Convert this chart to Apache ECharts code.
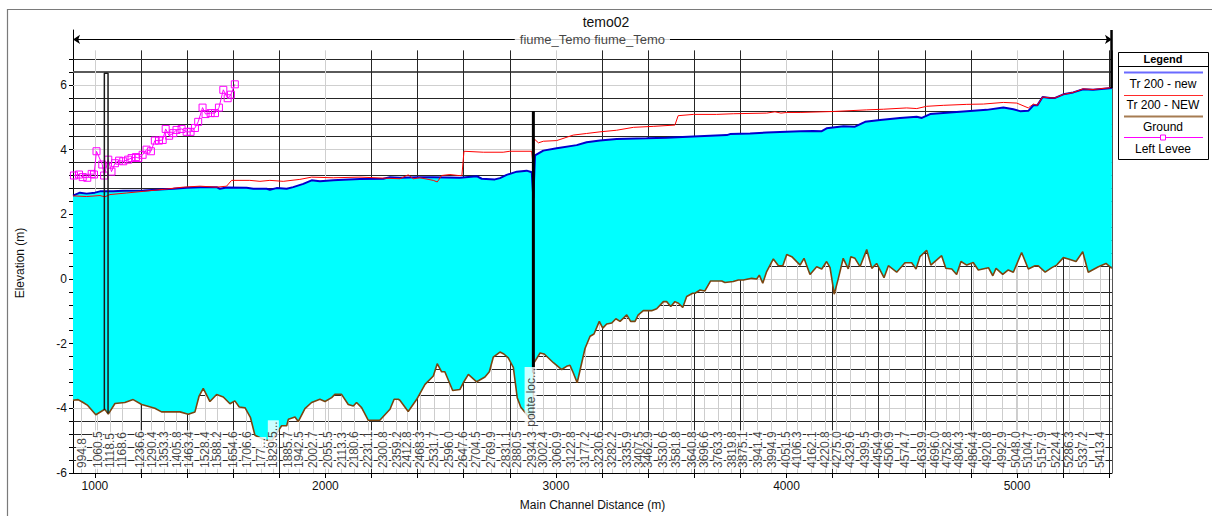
<!DOCTYPE html>
<html>
<head>
<meta charset="utf-8">
<script src="https://cdn.jsdelivr.net/npm/echarts/dist/echarts.min.js"></script>
<style>
html,body{margin:0;padding:0;background:#fff;}
#chart{width:1212px;height:516px;}
</style>
</head>
<body>
<div id="chart"></div>
<script>
// ---------------- data (main channel distance m, elevation m) ----------------
const titleText = 'temo02';
const reachText = 'fiume_Temo fiume_Temo';
const yAxisTitle = 'Elevation (m)';
const xAxisTitle = 'Main Channel Distance (m)';
const seriesNames = ['Tr 200 - new', 'Tr 200 - NEW', 'Ground', 'Left Levee'];

const xTickLabels = [1000, 2000, 3000, 4000, 5000];
const xTicks = [1000,1200,1400,1600,1800,2000,2200,2400,2600,2800,3000,3200,3400,3600,3800,4000,4200,4400,4600,4800,5000,5200,5400];
const yTickLabels = [-6, -4, -2, 0, 2, 4, 6];
const yTicks = [-6,-5.6,-5.2,-4.8,-4.4,-4,-3.6,-3.2,-2.8,-2.4,-2,-1.6,-1.2,-0.8,-0.4,0,0.4,0.8,1.2,1.6,2,2.4,2.8,3.2,3.6,4,4.4,4.8,5.2,5.6,6,6.4,6.8];

const stationLabels = ['994.8','1060.5','1118.5','1168.6','1236.6','1290.4','1353.3','1405.8','1463.4','1528.4','1588.2','1654.6','1706.6','177...','1829.5...','1885.7','1942.5','2002.7','2055.5','2113.3','2180.6','2231.1','2300.8','2359.2','2412.8','2468.3','2531.7','2596.0','2647.6','2704.5','2769.9','2831.1','2880.5','2934.3','3002.4','3060.9','3122.8','3177.2','3230.6','3282.2','3335.9','3407.5','3462.9','3530.6','3581.8','3640.8','3696.6','3763.3','3819.8','3875.1','3941.4','3994.9','4051.5','4106.3','4162.1','4220.8','4275.0','4329.6','4399.5','4454.9','4506.9','4574.7','4639.9','4696.0','4752.8','4804.3','4864.4','4920.8','4992.9','5048.0','5104.7','5157.9','5224.4','5286.3','5337.2','5413.4'];
const stationPos = [942,1012,1065,1118,1195,1246,1301,1354,1408,1477,1531,1600,1658,1720,1774,1839,1886,1947,2012,2070,2125,2186,2251,2309,2355,2410,2472,2537,2598,2653,2718,2783,2832,2895,2945,3003,3064,3126,3188,3244,3307,3361,3400,3466,3521,3589,3643,3704,3762,3813,3875,3936,3998,4047,4109,4167,4218,4276,4341,4398,4446,4514,4587,4644,4695,4750,4808,4868,4934,4996,5049,5107,5169,5227,5288,5360];

const bridgeLabel = 'ponte loc...';
const bridgePos = 2890;

const wsNew = [[905,2.58],[935,2.67],[964,2.64],[1000,2.67],[1022,2.71],[1079,2.71],[1123,2.73],[1210,2.74],[1282,2.77],[1340,2.79],[1398,2.82],[1456,2.84],[1528,2.84],[1542,2.79],[1571,2.83],[1658,2.82],[1687,2.79],[1745,2.79],[1759,2.76],[1788,2.81],[1832,2.79],[1860,2.84],[1904,2.94],[1940,3.05],[1976,3.02],[2034,3.05],[2077,3.07],[2150,3.09],[2251,3.1],[2280,3.15],[2323,3.13],[2396,3.15],[2468,3.15],[2583,3.13],[2656,3.18],[2678,3.1],[2735,3.08],[2757,3.12],[2786,3.22],[2830,3.32],[2873,3.35],[2895,3.3],[2902,2.5],[2909,3.82],[2945,3.97],[3003,4.04],[3090,4.14],[3133,4.23],[3191,4.28],[3263,4.33],[3393,4.35],[3480,4.37],[3596,4.41],[3741,4.45],[3755,4.48],[3842,4.5],[3914,4.53],[4059,4.57],[4116,4.58],[4153,4.57],[4174,4.66],[4247,4.72],[4297,4.71],[4341,4.86],[4406,4.92],[4492,4.98],[4565,5.02],[4587,4.98],[4623,5.1],[4709,5.15],[4782,5.19],[4868,5.23],[4941,5.3],[4984,5.25],[5013,5.19],[5049,5.2],[5071,5.37],[5088,5.37],[5111,5.63],[5143,5.6],[5165,5.6],[5201,5.71],[5244,5.77],[5287,5.87],[5330,5.85],[5412,5.91]];

const wsNEW = [[905,2.57],[964,2.55],[1022,2.58],[1043,2.54],[1065,2.61],[1138,2.66],[1210,2.71],[1296,2.77],[1383,2.84],[1456,2.87],[1528,2.84],[1571,2.87],[1593,3.05],[1672,3.05],[1716,3.02],[1759,3.05],[1817,3.02],[1889,3.08],[1940,3.15],[2034,3.13],[2150,3.15],[2251,3.12],[2323,3.1],[2359,3.22],[2381,3.1],[2410,3.13],[2468,3.05],[2485,3.0],[2504,3.2],[2540,3.23],[2576,3.2],[2592,3.2],[2601,3.95],[2685,3.92],[2771,3.92],[2800,3.95],[2895,3.95],[2902,3.41],[2906,4.33],[2924,4.21],[2945,4.26],[3003,4.28],[3075,4.45],[3133,4.5],[3191,4.55],[3263,4.6],[3336,4.69],[3422,4.72],[3516,4.76],[3530,5.05],[3596,5.09],[3697,5.09],[3769,5.11],[3914,5.13],[3950,5.17],[3976,5.13],[4001,5.15],[4059,5.15],[4203,5.18],[4348,5.23],[4420,5.25],[4521,5.29],[4565,5.27],[4608,5.34],[4680,5.37],[4782,5.4],[4854,5.41],[4941,5.46],[4999,5.44],[5049,5.29],[5071,5.41],[5088,5.37],[5111,5.63],[5143,5.6],[5165,5.6],[5201,5.71],[5244,5.77],[5287,5.88],[5330,5.86],[5412,5.92]];

const ground = [[905,-3.75],[927,-3.73],[949,-3.82],[967,-3.9],[1004,-4.2],[1043,-4.03],[1058,-4.18],[1087,-3.85],[1130,-3.82],[1166,-3.73],[1203,-3.88],[1260,-4.0],[1289,-4.11],[1369,-4.11],[1405,-4.18],[1434,-4.11],[1452,-3.62],[1470,-3.38],[1499,-3.79],[1528,-3.57],[1557,-3.65],[1586,-3.86],[1607,-3.77],[1626,-3.96],[1651,-3.98],[1675,-4.29],[1694,-4.83],[1737,-4.98],[1768,-5.0],[1810,-4.54],[1832,-4.54],[1839,-4.34],[1868,-4.27],[1882,-4.41],[1911,-4.01],[1940,-3.82],[1976,-3.72],[1998,-3.79],[2027,-3.67],[2041,-3.57],[2070,-3.57],[2099,-3.88],[2121,-3.93],[2135,-3.82],[2157,-3.98],[2186,-4.37],[2236,-4.37],[2280,-4.03],[2298,-3.72],[2316,-3.72],[2323,-3.75],[2359,-4.1],[2396,-3.72],[2432,-3.26],[2468,-3.0],[2485,-2.62],[2504,-2.87],[2518,-2.87],[2552,-3.45],[2583,-3.42],[2598,-3.21],[2620,-2.95],[2656,-3.18],[2692,-3.03],[2711,-2.87],[2728,-2.42],[2757,-2.26],[2774,-2.32],[2793,-2.44],[2815,-2.73],[2832,-3.67],[2847,-3.96],[2880,-4.25],[2901,-4.25],[2904,-2.6],[2931,-2.29],[2949,-2.32],[2989,-2.59],[3025,-2.8],[3046,-2.7],[3061,-2.67],[3075,-2.9],[3092,-3.21],[3126,-2.15],[3148,-1.77],[3165,-1.7],[3188,-1.31],[3203,-1.52],[3220,-1.39],[3242,-1.36],[3260,-1.23],[3278,-1.31],[3307,-1.11],[3324,-1.31],[3343,-1.31],[3357,-1.11],[3379,-0.98],[3415,-0.98],[3437,-0.92],[3466,-0.7],[3480,-0.7],[3498,-0.85],[3516,-0.7],[3531,-0.75],[3550,-0.88],[3567,-0.54],[3593,-0.44],[3603,-0.44],[3625,-0.34],[3646,-0.37],[3671,-0.06],[3719,-0.06],[3733,-0.11],[3769,-0.08],[3791,-0.03],[3813,-0.03],[3849,0.02],[3871,0.0],[3882,0.12],[3897,-0.13],[3914,0.23],[3943,0.62],[3965,0.41],[3984,0.41],[4001,0.76],[4023,0.69],[4059,0.43],[4076,0.64],[4102,0.14],[4131,0.38],[4153,0.31],[4174,0.54],[4189,0.35],[4207,-0.47],[4225,0.02],[4246,0.64],[4268,0.31],[4279,0.69],[4297,0.64],[4319,0.38],[4348,0.91],[4370,0.33],[4391,0.48],[4423,0.04],[4442,0.41],[4478,0.21],[4514,0.5],[4543,0.5],[4562,0.31],[4579,0.69],[4608,0.89],[4626,0.43],[4673,0.72],[4691,0.33],[4717,0.31],[4738,0.14],[4757,0.54],[4782,0.43],[4810,0.51],[4832,0.28],[4876,0.35],[4895,0.1],[4909,0.33],[4938,0.14],[4962,0.28],[4984,0.21],[5020,0.82],[5049,0.31],[5078,0.41],[5092,0.41],[5122,0.21],[5151,0.35],[5172,0.43],[5201,0.66],[5223,0.62],[5256,0.54],[5285,0.84],[5309,0.21],[5353,0.38],[5386,0.48],[5411,0.33]];

const leftLevee = [[909,3.2],[931,3.23],[947,3.15],[967,3.13],[986,3.25],[996,3.23],[1007,3.95],[1032,3.54],[1040,3.2],[1058,3.69],[1072,3.32],[1087,3.58],[1105,3.66],[1123,3.64],[1144,3.69],[1159,3.74],[1178,3.77],[1188,3.74],[1207,3.84],[1224,4.0],[1243,3.95],[1260,4.28],[1278,4.28],[1294,4.3],[1307,4.64],[1322,4.43],[1340,4.51],[1354,4.61],[1376,4.64],[1398,4.55],[1415,4.55],[1434,4.67],[1448,4.86],[1467,5.3],[1480,5.1],[1502,5.13],[1521,5.13],[1538,5.3],[1557,5.85],[1576,5.59],[1590,5.7],[1607,6.02]];

// structures drawn in the profile
const inlineStructure = [[1041,-4.05],[1041,6.36],[1057,6.36],[1057,-4.15]];
const bridgeDeck = [[2902,5.19],[2902,-2.9]];
const lastSection = [[5410,7.7],[5410,5.91]];
const reachArrowY = 7.41;
const reachLabelX = 3158;
const gridTopY = 7.07;

// ---------------- build ----------------
const X_MIN = 905, X_MAX = 5412, Y_MIN = -6, Y_MAX = 7.7;
const FONT = '"Liberation Sans", Arial, sans-serif';

function isEvenInt(v){ return Math.abs(v - Math.round(v)) < 1e-6 && Math.round(v) % 2 === 0; }

const gridLines = [];
yTicks.forEach(v => {
  if (v === Y_MIN) return;
  let ls = {color:'#262626', width:1, type:'solid'};
  if (isEvenInt(v)) ls = {color:'#cfcfcf', width:1, type:'solid'};
  if (Math.abs(v-6.4) < 1e-6) ls = {color:'#5a5a5a', width:2, type:'solid'};
  gridLines.push([{coord:[X_MIN, v], lineStyle: ls}, {coord:[X_MAX, v]}]);
});
stationPos.forEach(d => {
  gridLines.push([{coord:[d, Y_MIN], lineStyle:{color:'#cdcdcd', width:1, type:'solid'}}, {coord:[d, 2.0]}]);
});
xTicks.forEach(d => {
  const thousand = d % 1000 === 0;
  gridLines.push([{coord:[d, Y_MIN], lineStyle:{color: thousand ? '#cfcfcf' : '#262626', width:1, type:'solid'}}, {coord:[d, gridTopY]}]);
});
gridLines.push([{coord:[X_MAX, Y_MIN], lineStyle:{color:'#555', width:1, type:'solid'}}, {coord:[X_MAX, gridTopY]}]);

const chart = echarts.init(document.getElementById('chart'), null, {renderer:'svg'});

const legendItems = [
  {y:72.5, color:'#6a6aff', width:2, text:seriesNames[0], ty:83.5},
  {y:95.5, color:'#ff2a2a', width:1, text:seriesNames[1], ty:105},
  {y:116.5, color:'#a67c52', width:2, text:seriesNames[2], ty:126.5},
  {y:137.5, color:'#ff00ff', width:1, text:seriesNames[3], ty:148.5, marker:true}
];
const legendEls = [
  {type:'rect', shape:{x:1118.5, y:52.5, width:90, height:107}, style:{fill:'#fff', stroke:'#000', lineWidth:1}},
  {type:'text', style:{x:1163, y:59, text:'Legend', font:'bold 11px '+FONT, fill:'#000', textAlign:'center', textVerticalAlign:'middle'}},
  {type:'line', shape:{x1:1118.5, y1:66.5, x2:1208.5, y2:66.5}, style:{stroke:'#000', lineWidth:1}}
];
legendItems.forEach(it => {
  legendEls.push({type:'line', shape:{x1:1124, y1:it.y, x2:1203, y2:it.y}, style:{stroke:it.color, lineWidth:it.width}});
  if (it.marker) legendEls.push({type:'rect', shape:{x:1160.5, y:it.y-2.5, width:5, height:5}, style:{fill:'#fff', stroke:it.color, lineWidth:1}});
  legendEls.push({type:'text', style:{x:1163, y:it.ty, text:it.text, font:'12px '+FONT, fill:'#000', textAlign:'center', textVerticalAlign:'middle'}});
});

const option = {
  animation:false,
  backgroundColor:'#fff',
  textStyle:{fontFamily:FONT},
  title:{text:titleText, left:'center', top:15, padding:0, textStyle:{fontSize:14, fontWeight:'normal', color:'#111', fontFamily:FONT}},
  grid:{left:73, right:100, top:30, bottom:40.3, containLabel:false},
  xAxis:{
    type:'value', min:X_MIN, max:X_MAX,
    name:xAxisTitle, nameLocation:'middle', nameGap:26,
    nameTextStyle:{fontSize:12, color:'#111', fontFamily:FONT},
    axisLine:{onZero:false, lineStyle:{color:'#000', width:1}},
    axisTick:{show:true, customValues:xTicks, length:5, lineStyle:{color:'#000'}},
    axisLabel:{customValues:xTickLabels, formatter:v => String(v), fontSize:12, color:'#111', margin:7, fontFamily:FONT},
    splitLine:{show:false}
  },
  yAxis:{
    type:'value', min:Y_MIN, max:Y_MAX,
    axisLine:{onZero:false, lineStyle:{color:'#000', width:1}},
    axisTick:{show:true, customValues:yTicks, length:4, lineStyle:{color:'#000'}},
    axisLabel:{customValues:yTickLabels, formatter:v => String(v), fontSize:12, color:'#111', margin:6, fontFamily:FONT},
    splitLine:{show:false}
  },
  graphic:[
    {type:'rect', silent:true, shape:{x:7.5, y:9.5, width:1230, height:530}, style:{fill:'none', stroke:'#7a7a7a', lineWidth:1.2}, z:-1},
    {type:'text', silent:true, x:19.5, y:263, rotation:Math.PI/2,
      style:{text:yAxisTitle, font:'12px '+FONT, fill:'#111', textAlign:'center', textVerticalAlign:'middle'}},
    {type:'group', children:legendEls}
  ],
  series:[
    {
      name:'grid', type:'line', data:[], z:1, silent:true,
      markLine:{z:1, silent:true, symbol:'none', animation:false, label:{show:false}, data:gridLines}
    },
    {
      name:'water', type:'custom', z:2, clip:true, silent:true,
      data:[[3000, 0]],
      renderItem:function(params, api){
        const pts = wsNew.map(p => api.coord(p)).concat(ground.slice().reverse().map(p => api.coord(p)));
        return {type:'polygon', shape:{points:pts}, style:{fill:'#00ffff', stroke:null}};
      }
    },
    {
      name:'reach', type:'line', data:[], z:8, silent:true,
      markLine:{z:8, silent:true, symbol:['arrow','arrow'], symbolSize:[7,7], animation:false,
        lineStyle:{color:'#000', width:1, type:'solid'},
        label:{show:false},
        data:[[{coord:[X_MIN, reachArrowY]}, {coord:[X_MAX, reachArrowY]}]]}
    },
    {
      name:'reachName', type:'scatter', z:9, silent:true, symbolSize:0,
      data:[[reachLabelX, reachArrowY]],
      label:{show:true, position:'inside', formatter:reachText, fontSize:13, color:'#111', backgroundColor:'#fff', padding:[1,5], fontFamily:FONT}
    },
    {name:seriesNames[2], type:'line', data:ground, z:3, symbol:'none', lineStyle:{color:'#7a4510', width:1.6}},
    {name:seriesNames[0], type:'line', data:wsNew, z:4, symbol:'none', lineStyle:{color:'#0000cc', width:2}},
    {name:seriesNames[1], type:'line', data:wsNEW, z:5, symbol:'none', lineStyle:{color:'#ff0000', width:1}},
    {name:seriesNames[3], type:'line', data:leftLevee, z:6, symbol:'rect', symbolSize:7, showSymbol:true,
      lineStyle:{color:'#ff00ff', width:1}, itemStyle:{color:'rgba(255,255,255,0)', borderColor:'#ff00ff', borderWidth:1}},
    {name:'inline', type:'line', data:inlineStructure, z:7, symbol:'none', silent:true, lineStyle:{color:'#1a1a1a', width:1.5}},
    {name:'bridge', type:'line', data:bridgeDeck, z:7, symbol:'none', silent:true, lineStyle:{color:'#000', width:3}},
    {name:'lastXS', type:'line', data:lastSection, z:7, symbol:'none', silent:true, lineStyle:{color:'#000', width:2.5}},
    {
      name:'stations', type:'scatter', z:10, silent:true, symbolSize:0,
      data:stationPos.map((d,i) => [d, Y_MIN, i]),
      label:{show:true, position:'top', distance:4, rotate:90, align:'left', verticalAlign:'middle',
        formatter:p => stationLabels[p.value[2]], fontSize:12, color:'#111', backgroundColor:'#fff',
        padding:[0,1,0,1], lineHeight:11, fontFamily:FONT}
    },
    {
      name:'bridgeName', type:'scatter', z:10, silent:true, symbolSize:0,
      data:[[bridgePos, -4.6]],
      label:{show:true, position:'top', distance:0, rotate:90, align:'left', verticalAlign:'middle',
        formatter:bridgeLabel, fontSize:12, color:'#111', backgroundColor:'#fff',
        padding:[1,1,0,1], lineHeight:11, fontFamily:FONT}
    }
  ]
};
chart.setOption(option);
</script>
</body>
</html>
